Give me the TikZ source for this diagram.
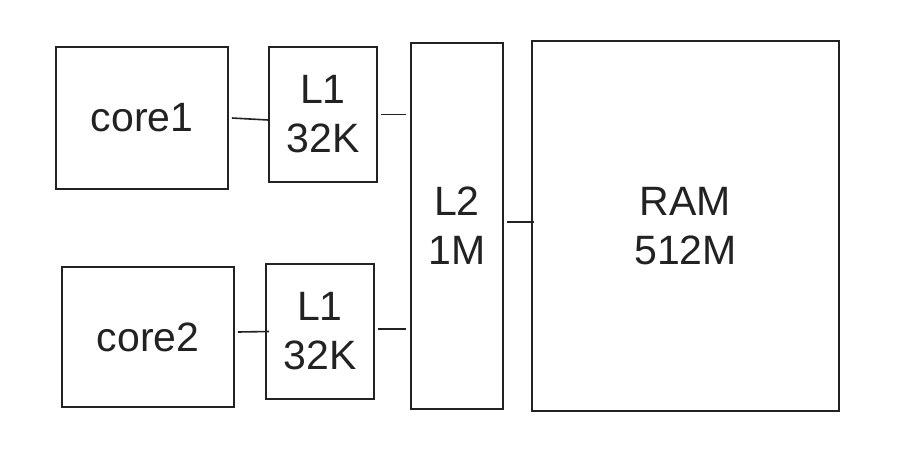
\documentclass[tikz,border=0pt]{standalone}
\usepackage{fontspec}
\setmainfont{Liberation Sans}
\usepackage{tikz}
\usepackage{xcolor}
\definecolor{BoxInk}{HTML}{222222}

\begin{document}
\begin{tikzpicture}[
    x=1pt,y=-1pt,
    unit/.style={draw=BoxInk,line width=1.6pt,inner sep=0pt,align=center,
      text=BoxInk,font=\fontsize{41}{49}\selectfont},
    wire/.style={draw=BoxInk,line width=1.6pt}
  ]
    \useasboundingbox (0,0) rectangle (922,472);
    \node[unit,minimum width=172pt,minimum height=142pt] (core1) at (142,118) {core1};
    \node[unit,minimum width=172pt,minimum height=140pt] (core2) at (148,337) {core2};
    \node[unit,minimum width=108pt,minimum height=135pt] (l1a) at (323,114.5) {L1\\32K};
    \node[unit,minimum width=108pt,minimum height=135pt] (l1b) at (320,331.5) {L1\\32K};
    \node[unit,minimum width=92pt,minimum height=366pt] (l2) at (457,226) {L2\\1M};
    \node[unit,minimum width=307pt,minimum height=370pt] (ram) at (685.5,226) {RAM\\512M};
    \draw[wire] ([xshift=3pt]core1.east) -- ([yshift=-5.5pt]l1a.west);
    \draw[wire] ([xshift=3pt]l1a.east) -- ([xshift=-4pt]l1a.east -| l2.west);
    \draw[wire] ([xshift=3pt,yshift=5pt]core2.east) -- ([xshift=4pt]l1b.west);
    \draw[wire] ([xshift=3pt,yshift=2.5pt]l1b.east) -- ([xshift=-4pt,yshift=2.5pt]l1b.east -| l2.west);
    \draw[wire] ([xshift=3pt,yshift=4pt]l2.east) -- ([xshift=3pt,yshift=4pt]ram.west);
  \end{tikzpicture}
\end{document}
